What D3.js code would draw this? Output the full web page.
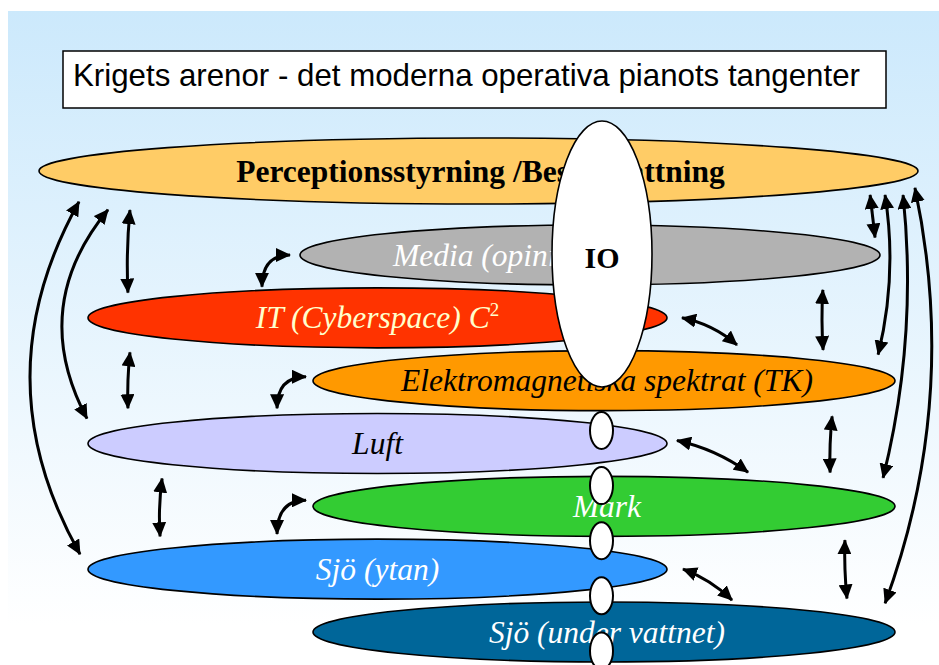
<!DOCTYPE html>
<html>
<head>
<meta charset="utf-8">
<script src="https://cdn.jsdelivr.net/npm/d3@7"></script>
<style>
  html, body { margin: 0; padding: 0; background: #ffffff; }
  svg { display: block; }
</style>
</head>
<body>
<div id="chart"></div>
<script>
// ---------------- DATA ----------------
const titleText = "Krigets arenor - det moderna operativa pianots tangenter";
const layerKeys = ["perception", "media", "it", "em", "luft", "mark", "sjoYtan", "sjoUnder"];
const layerLabels = [
  "Perceptionsstyrning /Beslutsfattning",
  "Media (opinion)",
  "IT (Cyberspace) C",
  "Elektromagnetiska spektrat (TK)",
  "Luft",
  "Mark",
  "Sjö (ytan)",
  "Sjö (under vattnet)"
];
const layerSuperscripts = ["", "", "2", "", "", "", "", ""];
const ioLabel = "IO";
const ioPipeCount = 5;
// connections between arenas (double-headed arrows)
const arrowLinks = [
  ["perception", "sjoYtan"], ["perception", "luft"], ["perception", "it"], ["media", "it"],
  ["it", "luft"], ["em", "luft"], ["luft", "sjoYtan"], ["mark", "sjoYtan"],
  ["it", "em"], ["media", "em"], ["perception", "media"], ["perception", "em"],
  ["perception", "mark"], ["perception", "sjoUnder"], ["luft", "mark"], ["em", "mark"],
  ["sjoYtan", "sjoUnder"], ["mark", "sjoUnder"]
];

// ---------------- LAYOUT / STYLE ----------------
const W = 939, H = 665;
const layerColumns = ["full", "mid", "left", "right", "left", "right", "left", "right"];
const columnExtent = { full: [39, 918], mid: [300, 880], left: [88, 667], right: [313, 895] };
const layerFill = ["#ffcc66", "#b2b2b2", "#ff3300", "#ff9900", "#ccccff", "#33cc33", "#3399ff", "#006699"];
const layerTextColor = ["#000000", "#ffffff", "#ffffcc", "#000000", "#000000", "#ffffff", "#ffffff", "#ffffff"];
// arrow anchor geometry: [side, f, gap] for each end, then bend
const arrowShape = [
  [["b", -0.909, 17], ["l", -0.5, 8], 99],
  [["b", -0.843, 21], ["l", -0.83, 1], 70],
  [["b", -0.793, 19], ["t", -0.862, 10], 3],
  [["l", 0, 10], ["t", -0.399, 3.5], "corner"],
  [["b", -0.855, 19], ["t", -0.862, 20], 2],
  [["l", -0.13, 7], ["t", -0.347, 7], "corner"],
  [["b", -0.744, 15], ["t", -0.751, 13], 3],
  [["l", -0.2, 7], ["t", -0.347, 7], "corner"],
  [["r", 0, 15], ["t", 0.457, 9], -8],
  [["b", 0.803, 17], ["t", 0.753, 11], 2],
  [["b", 0.891, 9], ["t", 0.983, 12], 0],
  [["b", 0.925, 11.5], ["t", 0.942, 16], -16],
  [["b", 0.966, 15.5], ["t", 0.959, 20], -25],
  [["b", 0.993, 13], ["t", 0.966, 21], -60],
  [["r", -0.1, 10], ["t", 0.495, 8], -8],
  [["b", 0.784, 17], ["t", 0.777, 15], 2],
  [["r", 0, 16], ["t", 0.44, 5], -6],
  [["b", 0.828, 17], ["t", 0.835, 17], 2]
];

const serif = "'Liberation Serif', 'Times New Roman', Times, serif";
const sans = "'Liberation Sans', Arial, Helvetica, sans-serif";

// scales
const yScale = d3.scaleLinear().domain([0, 1, layerKeys.length - 1]).range([171, 255, 632]);
const xScale = d3.scaleLinear().domain([0, W]).range([0, W]);

const layers = layerKeys.map((k, i) => {
  const ext = columnExtent[layerColumns[i]];
  const x0 = xScale(ext[0]), x1 = xScale(ext[1]);
  return {
    key: k, label: layerLabels[i], sup: layerSuperscripts[i],
    cx: (x0 + x1) / 2, rx: (x1 - x0) / 2,
    cy: yScale(i), ry: i === 0 ? 33 : 30,
    fill: layerFill[i], textColor: layerTextColor[i], index: i
  };
});
const byKey = Object.fromEntries(layers.map(l => [l.key, l]));

const svg = d3.select("#chart").append("svg")
  .attr("width", W).attr("height", H)
  .attr("viewBox", `0 0 ${W} ${H}`);

const defs = svg.append("defs");
const grad = defs.append("linearGradient").attr("id", "bg").attr("x1", 0).attr("y1", 0).attr("x2", 0).attr("y2", 1);
grad.append("stop").attr("offset", "0%").attr("stop-color", "#cce9fc");
grad.append("stop").attr("offset", "100%").attr("stop-color", "#ffffff");

defs.append("marker")
  .attr("id", "head")
  .attr("viewBox", "0 0 15 14")
  .attr("refX", 14).attr("refY", 7)
  .attr("markerWidth", 15).attr("markerHeight", 14)
  .attr("markerUnits", "userSpaceOnUse")
  .attr("orient", "auto-start-reverse")
  .append("path").attr("d", "M0,0 L15,7 L0,14 Z").attr("fill", "#000");

// background
svg.append("rect").attr("x", 8).attr("y", 11).attr("width", W - 8).attr("height", 614).attr("fill", "url(#bg)");

// title box
svg.append("rect").attr("x", 63).attr("y", 51).attr("width", 823).attr("height", 57)
  .attr("fill", "#fff").attr("stroke", "#000").attr("stroke-width", 1.5);
const title = svg.append("text").attr("x", 73).attr("y", 86)
  .attr("font-family", sans).attr("font-size", 29).attr("fill", "#000").text(titleText);
const tl = title.node().getComputedTextLength();
title.attr("font-size", 29 * 787 / tl);

// arena ellipses
svg.append("g").selectAll("ellipse").data(layers).join("ellipse")
  .attr("cx", d => d.cx).attr("cy", d => d.cy).attr("rx", d => d.rx).attr("ry", d => d.ry)
  .attr("fill", d => d.fill).attr("stroke", "#000").attr("stroke-width", 1.6);

// arena labels
const labels = svg.append("g").selectAll("text").data(layers).join("text")
  .attr("x", d => d.key === "media" ? d.cx - d.rx + 93 : d.cx + (d.index === 0 ? 2 : d.index % 2 === 1 ? 3 : 0))
  .attr("y", d => d.cy + 10.5)
  .attr("text-anchor", d => d.key === "media" ? "start" : "middle")
  .attr("font-family", serif)
  .attr("font-size", 31.5)
  .attr("font-weight", d => d.index === 0 ? "bold" : "normal")
  .attr("font-style", d => d.index === 0 ? "normal" : "italic")
  .attr("fill", d => d.textColor);
labels.append("tspan").text(d => d.label);
labels.filter(d => d.sup).append("tspan")
  .attr("dy", -12).attr("font-size", 19).attr("font-style", "normal").text(d => d.sup);

// IO ellipse and pipe ovals
const ioCx = 602;
svg.append("ellipse").attr("cx", ioCx).attr("cy", 254).attr("rx", 50).attr("ry", 133)
  .attr("fill", "#fff").attr("stroke", "#000").attr("stroke-width", 1.6);
svg.append("text").attr("x", ioCx).attr("y", 268).attr("text-anchor", "middle")
  .attr("font-family", serif).attr("font-weight", "bold").attr("font-size", 30).text(ioLabel);
svg.append("g").selectAll("ellipse").data(d3.range(ioPipeCount)).join("ellipse")
  .attr("cx", ioCx - 0.5).attr("cy", i => 430.5 + i * 55.1).attr("rx", 11.5).attr("ry", 18.5)
  .attr("fill", "#fff").attr("stroke", "#000").attr("stroke-width", 2);

// arrows
function anchor(layer, spec) {
  const [side, f, gap] = spec;
  if (side === "l") return [layer.cx - layer.rx - gap, layer.cy + f * layer.ry];
  if (side === "r") return [layer.cx + layer.rx + gap, layer.cy + f * layer.ry];
  const x = layer.cx + f * layer.rx;
  const h = layer.ry * Math.sqrt(Math.max(0, 1 - f * f));
  return side === "t" ? [x, layer.cy - h - gap] : [x, layer.cy + h + gap];
}
const arrows = arrowLinks.map((lk, i) => {
  const s = arrowShape[i];
  const a = anchor(byKey[lk[0]], s[0]);
  const b = anchor(byKey[lk[1]], s[1]);
  const p = d3.path();
  if (s[2] === "corner") {
    p.moveTo(b[0], b[1]);
    p.quadraticCurveTo(b[0], a[1], a[0], a[1]);
  } else {
    const dx = b[0] - a[0], dy = b[1] - a[1], len = Math.hypot(dx, dy);
    const nx = -dy / len, ny = dx / len;
    const mx = (a[0] + b[0]) / 2 + nx * s[2], my = (a[1] + b[1]) / 2 + ny * s[2];
    p.moveTo(a[0], a[1]);
    p.quadraticCurveTo(mx, my, b[0], b[1]);
  }
  return p.toString();
});
svg.append("g").selectAll("path").data(arrows).join("path")
  .attr("d", d => d).attr("fill", "none").attr("stroke", "#000").attr("stroke-width", 3)
  .attr("marker-start", "url(#head)").attr("marker-end", "url(#head)");
</script>
</body>
</html>
